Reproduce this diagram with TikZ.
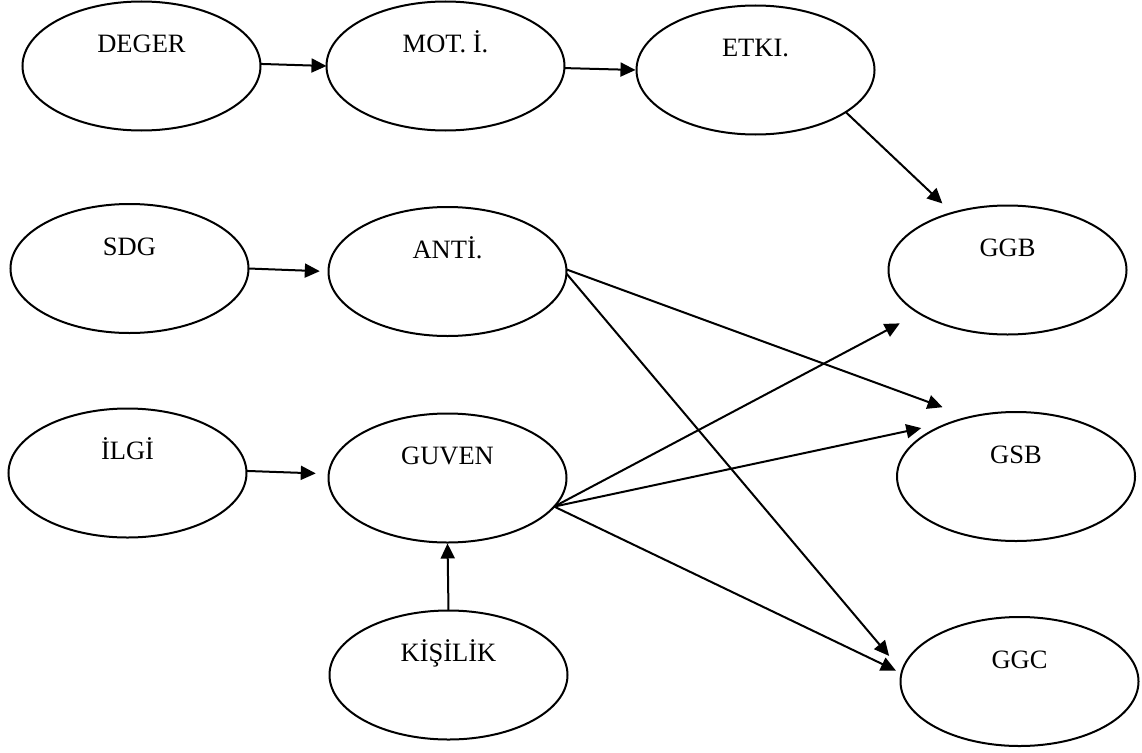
\documentclass[tikz,border=0pt]{standalone}
\usepackage{fontspec}
\setmainfont{Liberation Serif}
\usetikzlibrary{shapes.geometric,arrows.meta}
\begin{document}
\begin{tikzpicture}[x=1pt,y=-1pt,
  oval/.style={ellipse,draw,line width=2pt,minimum width=238pt,minimum height=129pt,inner sep=0pt,outer sep=0pt},
  caption/.style={anchor=base,font=\fontsize{26.5}{30}\selectfont,inner sep=0pt},
  link/.style={line width=2pt,-{Triangle[length=15pt,width=14pt]}}]
\useasboundingbox (0,0) rectangle (1142,752);

% ellipses
\node[oval] (deger)   at (141.5,66)   {};
\node[oval] (mot)     at (445.5,66)   {};
\node[oval] (etki)    at (755.5,70)   {};
\node[oval] (sdg)     at (129.5,268.5){};
\node[oval] (anti)    at (447.5,271.5){};
\node[oval] (ggb)     at (1007.5,270) {};
\node[oval] (ilgi)    at (127.5,473)  {};
\node[oval] (guven)   at (447.5,478)  {};
\node[oval] (gsb)     at (1016,476.5) {};
\node[oval] (kisilik) at (448.5,675)  {};
\node[oval] (ggc)     at (1019.5,681.5){};

% captions, set in the upper half of each ellipse
\node[caption] (deger-l)   at ([yshift=13.2pt]deger.center)   {DEGER};
\node[caption] (mot-l)     at ([yshift=13.2pt]mot.center)     {MOT. İ.};
\node[caption] (etki-l)    at ([yshift=13.2pt]etki.center)    {ETKI.};
\node[caption] (sdg-l)     at ([yshift=13.2pt]sdg.center)     {SDG};
\node[caption] (anti-l)    at ([yshift=13.2pt]anti.center)    {ANTİ.};
\node[caption] (ggb-l)     at ([yshift=13.2pt]ggb.center)     {GGB};
\node[caption] (ilgi-l)    at ([yshift=13.2pt]ilgi.center)    {İLGİ};
\node[caption] (guven-l)   at ([yshift=13.2pt]guven.center)   {GUVEN};
\node[caption] (gsb-l)     at ([yshift=13.2pt]gsb.center)     {GSB};
\node[caption] (kisilik-l) at ([yshift=13.2pt]kisilik.center) {KİŞİLİK};
\node[caption] (ggc-l)     at ([yshift=13.2pt]ggc.center)     {GGC};

% connectors
\draw[link] (deger.1.5) -- (mot.180);
\draw[link,shorten >=1pt] (mot.-1) -- (etki.180);
\draw[link,shorten >=13.7pt] (etki.-25) -- (ggb.134);
\draw[link,shorten >=8.7pt] (sdg.0) -- (anti.180);
\draw[link,shorten >=28.8pt] (anti.1) -- (gsb.128.4);
\draw[link,shorten >=20pt] (anti.-1) -- (ggc.175.7);
\draw[link,shorten >=13pt] (ilgi.1) -- (guven.178);
\draw[link,shorten >=21.8pt] (guven.-15) -- (ggb.206.4);
\draw[link,shorten >=37.3pt] (guven.-15) -- (gsb.136.5);
\draw[link,shorten >=6.2pt] (guven.-15) -- (ggc.176.6);
\draw[link,shorten >=1pt] (kisilik.north) -- (guven.south);
\end{tikzpicture}
\end{document}
